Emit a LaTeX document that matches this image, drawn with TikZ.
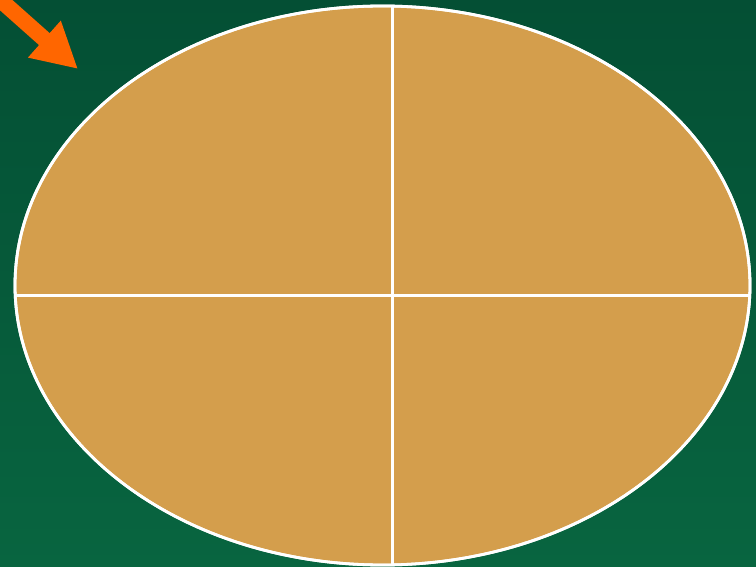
\documentclass[tikz,border=0pt]{standalone}
\usetikzlibrary{arrows.meta}
\definecolor{bgtop}{RGB}{4,79,52}
\definecolor{bgbot}{RGB}{8,101,64}
\definecolor{tan}{RGB}{212,158,76}
\definecolor{pointer}{RGB}{255,102,0}
\begin{document}
\begin{tikzpicture}[
    x=1pt, y=-1pt,
    rim/.style={draw=white, line width=2.8pt},
    cut/.style={white, line width=3pt},
    pointer arrow/.style={pointer, line width=16pt,
                          -{Triangle[length=45pt,width=46pt]}},
]
% Background
\shade[top color=bgtop, bottom color=bgbot] (0,0) rectangle (756,567);
\useasboundingbox (0,0) rectangle (756,567);

% Plate and quadrants
\coordinate (mid) at (382.5,285.5);
\filldraw[fill=tan, rim] (mid) ellipse [x radius=367.5, y radius=279.5];
\begin{scope}
  \clip (mid) ellipse [x radius=367.5, y radius=279.5];
  \draw[cut] (392,0) -- (392,567);
  \draw[cut] (0,295) -- (756,295);
\end{scope}
\draw[rim] (mid) ellipse [x radius=367.5, y radius=279.5];

% Pointer
\coordinate (tail) at (-12,-11);
\coordinate (tip) at (78,69);
\draw[pointer arrow] (tail) -- (tip);
\end{tikzpicture}
\end{document}
